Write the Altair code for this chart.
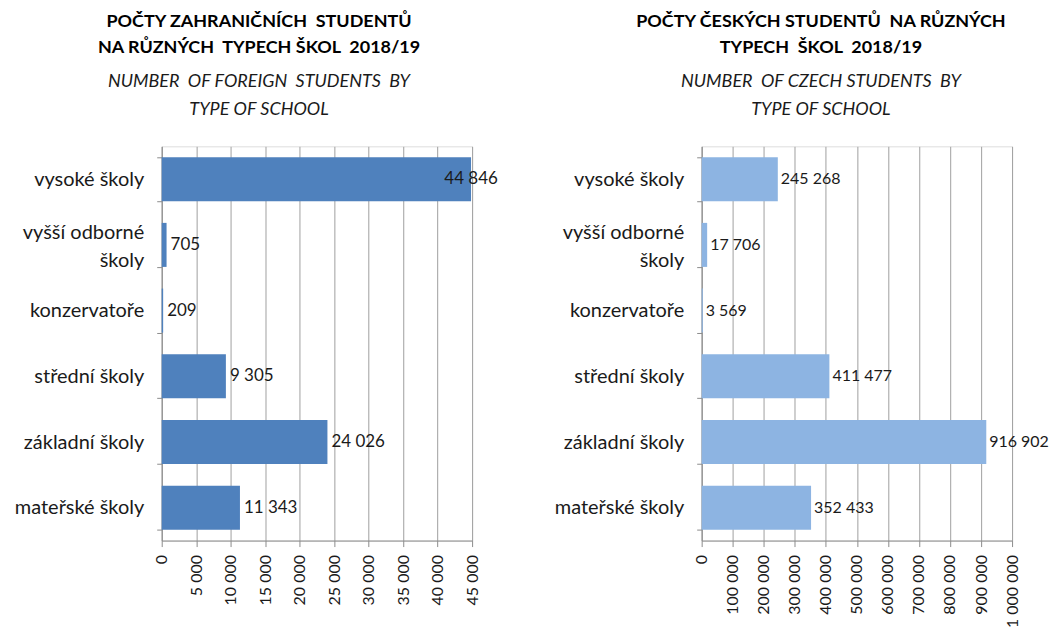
import altair as alt
import pandas as pd

categories = ["vysoké školy", "vyšší odborné školy", "konzervatoře",
              "střední školy", "základní školy", "mateřské školy"]
foreign = [44846, 705, 209, 9305, 24026, 11343]
czech = [245268, 17706, 3569, 411477, 916902, 352433]

S = "\u00a0 "
left_title = [f"POČTY ZAHRANIČNÍCH{S}STUDENTŮ", f"NA RŮZNÝCH{S}TYPECH ŠKOL{S}2018/19"]
left_sub = [f"NUMBER{S}OF FOREIGN{S}STUDENTS{S}BY", "TYPE OF SCHOOL"]
right_title = [f"POČTY ČESKÝCH STUDENTŮ{S}NA RŮZNÝCH", f"TYPECH{S}ŠKOL{S}2018/19"]
right_sub = [f"NUMBER{S}OF CZECH STUDENTS{S}BY", "TYPE OF SCHOOL"]

left_ticks = list(range(0, 45001, 5000))
right_ticks = list(range(0, 1000001, 100000))

FONT = "Lato"


def fmt(v):
    return f"{v:,}".replace(",", " ")


def panel(values, color, dmax, ticks, title, sub, dx, vfont, vdx):
    df = pd.DataFrame({"cat": categories, "v": values,
                       "label": [fmt(v) for v in values],
                       "frac": [v / dmax for v in values]})
    base = alt.Chart(df)
    x = alt.X("v:Q", scale=alt.Scale(domain=[0, dmax], nice=False),
              axis=alt.Axis(values=ticks, title=None, labelAngle=-90, labelOverlap=False,
                            labelExpr="replace(replace(format(datum.value, ','), ',', ' '), ',', ' ')",
                            grid=True, gridColor="#a0a0a0", domainColor="#8c8c8c",
                            tickColor="#8c8c8c", tickSize=6, labelPadding=8,
                            labelFontSize=16, labelFont=FONT, labelColor="#1a1a1a"))
    y = alt.Y("cat:N", sort=categories,
              scale=alt.Scale(paddingInner=0.33, paddingOuter=0.165),
              axis=alt.Axis(title=None, tickBand="extent", tickSize=5,
                            tickColor="#8c8c8c", domainColor="#8c8c8c",
                            labelFontSize=20, labelFont=FONT, labelColor="#1a1a1a",
                            labelPadding=13, labelLineHeight=28,
                            labelOffset={"condition": {"test": "datum.value == 'vyšší odborné školy'",
                                                       "value": -12}, "value": 0},
                            minExtent=147, maxExtent=147,
                            labelExpr="datum.value == 'vyšší odborné školy' ? ['vyšší odborné', 'školy'] : datum.value"))
    bars = base.mark_bar(color=color).encode(x=x, y=y)
    txt_out = base.transform_filter("datum.frac <= 0.95").mark_text(
        align="left", dx=vdx, fontSize=vfont, font=FONT, color="#1a1a1a"
    ).encode(x=x, y=y, text="label:N")
    txt_in = base.transform_filter("datum.frac > 0.95").mark_text(
        align="center", dx=0, fontSize=vfont, font=FONT, color="#1a1a1a"
    ).encode(x=x, y=y, text="label:N")
    return alt.layer(bars, txt_out, txt_in).properties(
        width=311, height=395,
        title=alt.TitleParams(text=title, subtitle=sub, anchor="middle", dx=dx,
                              font=FONT, fontSize=18, fontWeight="bold", color="#000000",
                              lineHeight=27, subtitleFont=FONT, subtitleFontSize=18,
                              subtitleFontStyle="italic", subtitleColor="#1a1a1a",
                              subtitleLineHeight=28, subtitlePadding=16, offset=17)
    )


left = panel(foreign, "#4F81BD", 45000, left_ticks, left_title, left_sub, -58, 17, 4)
right = panel(czech, "#8DB4E2", 1000000, right_ticks, right_title, right_sub, -36, 16, 3)

chart = alt.hconcat(left, right, spacing=54).properties(
    padding={"left": 5, "top": 3, "right": 0, "bottom": 0}
).configure_view(stroke=None).configure(background="white")

chart.save("out.html", embed_options={"renderer": "svg", "actions": False})
